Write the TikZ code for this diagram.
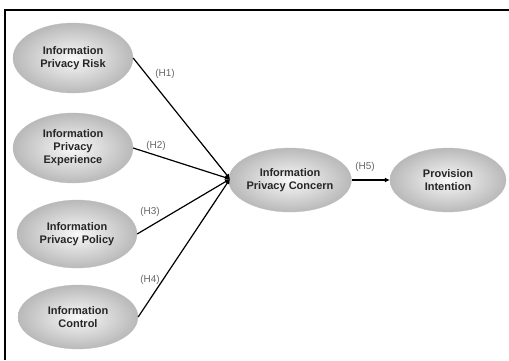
\documentclass[tikz,border=0pt]{standalone}
\usepackage{fontspec}
\setmainfont{Liberation Sans}
\usetikzlibrary{shapes.geometric,arrows.meta,shadows}
\tikzset{
  construct/.style={ellipse, minimum width=120pt, minimum height=70pt, inner sep=0pt,
    inner color=gray!5, outer color=gray!55, draw=gray!50, line width=0.3pt,
    align=center, font=\bfseries\fontsize{11}{13}\selectfont, text=black!85},
  path/.style={line width=1.2pt, -{Latex[length=5pt,width=5pt]}},
  hlabel/.style={font=\fontsize{10}{11}\selectfont, text=black!60}
}
\begin{document}
\begin{tikzpicture}[x=1pt,y=-1pt]
\useasboundingbox (0,0) rectangle (509,360);
\draw[line width=1.4pt] (5,360) -- (5,10) -- (509,10);
\node[construct] (risk) at (73,58) {Information\\Privacy Risk};
\node[construct] (exp) at (73,148) {Information\\Privacy\\Experience};
\node[construct, minimum height=68pt] (pol) at (77,234) {Information\\Privacy Policy};
\node[construct, minimum height=64pt] (ctl) at (78,317) {Information\\Control};
\node[construct, minimum width=116pt, minimum height=64pt] (conc) at (290,180) {Information\\Privacy Concern};
\node[construct, minimum width=116pt, minimum height=64pt] (prov) at (448,180) {Provision\\Intention};
\coordinate (hub) at (230,179);
\draw[path] (risk.east) -- (hub);
\draw[path] (exp.east) -- (hub);
\draw[path] (pol.east) -- (hub);
\draw[path] (ctl.east) -- (hub);
\draw[path] (conc.east) -- (prov.west);
\node[hlabel] (h1) at (165,74) {(H1)};
\node[hlabel] (h2) at (156,146) {(H2)};
\node[hlabel] (h3) at (150,212) {(H3)};
\node[hlabel] (h4) at (150,280) {(H4)};
\node[hlabel] (h5) at (365,167) {(H5)};
\end{tikzpicture}
\end{document}
